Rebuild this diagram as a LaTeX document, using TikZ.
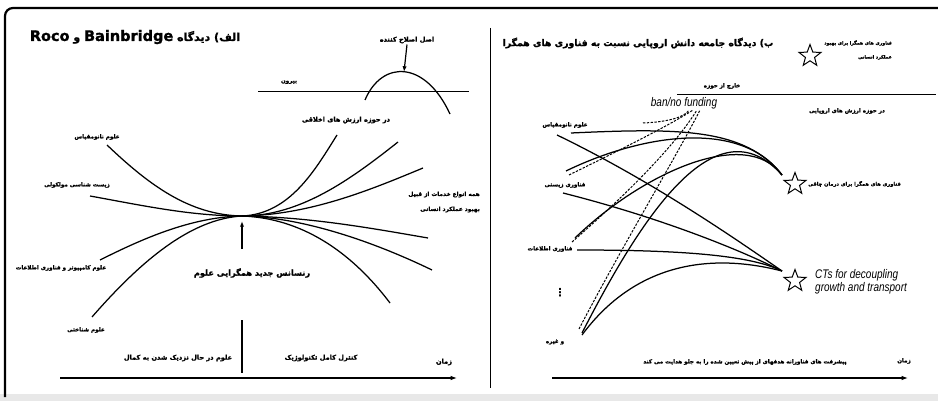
\documentclass[tikz,border=0pt]{standalone}
\usepackage{fontspec}
\usetikzlibrary{arrows.meta,shapes.geometric}
\TeXXeTstate=1
\newfontfamily\farsi[Script=Arabic,BoldFeatures={FakeBold=1.4}]{DejaVu Sans}
\newfontfamily\symfont{DejaVu Sans}
\newfontfamily\narrowit[FakeStretch=0.8]{Liberation Sans}
\newcommand{\rtl}[1]{\beginR#1\endR}
\definecolor{edgegray}{RGB}{232,232,232}
\tikzset{
  curve/.style={black,line width=1.25pt},
  twin/.style={black,line width=1pt,dash pattern=on 2.4pt off 1.4pt},
  rule/.style={black,line width=1pt},
  axis/.style={-{Latex[length=2.2mm,width=1.6mm]},line width=1.8pt},
  pointer/.style={-{Latex[length=2mm,width=1.5mm]},line width=1.2pt},
  lab/.style={font=\farsi\bfseries\fontsize{5.6}{8}\selectfont,inner sep=1pt},
  smalllab/.style={font=\farsi\bfseries\fontsize{5.1}{14}\selectfont,inner sep=1pt},
  midlab/.style={font=\farsi\bfseries\fontsize{6.6}{9}\selectfont,inner sep=1pt},
  biglab/.style={font=\farsi\bfseries\fontsize{8.2}{10}\selectfont,inner sep=1pt},
  heading/.style={font=\farsi\bfseries\fontsize{11}{13}\selectfont,inner sep=1pt},
  entext/.style={font=\narrowit\itshape\fontsize{12.5}{13}\selectfont,inner sep=1pt},
  target/.style={star,star points=5,star point ratio=2.4,draw,line width=1pt,
                 minimum size=23pt,inner sep=0pt},
}

\begin{document}
\begin{tikzpicture}[x=1pt,y=-1pt]
  \path[use as bounding box] (0,0) rectangle (938,401);
  \fill[edgegray] (0,394) rectangle (938,401);
  \draw[line width=2.2pt,rounded corners=8pt] (5,397) -- (5,8) -- (945,8);
  \draw[rule,line width=0.8pt] (490,28) -- (490,388);

  % left panel
  \node[heading] (lefttitle) at (135,37)
    {\rtl{الف) دیدگاه \beginL{\fontsize{14.5}{15}\selectfont Bainbridge}\endL{} و
     \beginL{\fontsize{14.5}{15}\selectfont Roco}\endL}};
  \node[midlab] (fix) at (407,40) {\rtl{اصل اصلاح کننده}};
  \node[lab] (outL) at (289,82) {\rtl{بیرون}};
  \node[midlab] (ethics) at (346,120) {\rtl{در حوزه ارزش های اخلاقی}};
  \coordinate (lineL) at (258,92);
  \coordinate (lineR) at (469,92);
  \coordinate (bellA) at (365,100);
  \coordinate (bellB) at (450,114);
  \coordinate (bellTop) at (404,72);
  \draw[rule] (lineL) -- (lineR);
  \draw[curve] (bellA) .. controls (382,60) and (425,60) .. (bellB);
  \draw[pointer] (fix.south) -- (bellTop);

  \node[lab] (nanoL) at (97,137) {\rtl{علوم نانومقیاس}};
  \node[lab] (molbio) at (77,185) {\rtl{زیست شناسی مولکولی}};
  \node[lab] (cs) at (61,268) {\rtl{علوم کامپیوتر و فناوری اطلاعات}};
  \node[lab] (cog) at (86,330) {\rtl{علوم شناختی}};
  \node[lab,font=\farsi\bfseries\fontsize{5.8}{15}\selectfont,align=right,anchor=east]
    (services) at (481,202)
    {\rtl{همه انواع خدمات از قبیل}\\\rtl{بهبود عملکرد انسانی}};

  \coordinate (hub) at (242,216);
  \draw[curve] (107,145) .. controls (150,186) and (190,215) .. (hub)
               .. controls (300,216) and (350,180) .. (398,142);
  \draw[curve] (90,196) .. controls (140,205) and (190,216) .. (hub)
               .. controls (310,215) and (370,190) .. (423,168);
  \draw[curve] (100,260) .. controls (140,240) and (190,217) .. (hub)
               .. controls (310,217) and (370,228) .. (428,238);
  \draw[curve] (92,317) .. controls (140,262) and (190,219) .. (hub)
               .. controls (300,217) and (370,240) .. (432,270);
  \draw[curve] (hub) .. controls (290,214) and (315,170) .. (337,135);
  \draw[curve] (hub) .. controls (300,218) and (350,250) .. (390,303);

  \node[biglab] (renaissance) at (252,273) {\rtl{رنسانس جدید همگرایی علوم}};
  \coordinate (upfoot) at (242,249);
  \draw[pointer] (upfoot) -- ([yshift=-5pt]hub);

  \node[midlab] (near) at (178,358) {\rtl{علوم در حال نزدیک شدن به کمال}};
  \node[midlab] (control) at (321,358) {\rtl{کنترل کامل تکنولوژیک}};
  \node[midlab] (timeL) at (444,362) {\rtl{زمان}};
  \draw[rule,line width=1.3pt] (242,320) -- (242,373);
  \coordinate (axisLa) at (60,378);
  \coordinate (axisLb) at (457,378);
  \draw[axis] (axisLa) -- (axisLb);

  % right panel
  \node[heading,font=\farsi\bfseries\fontsize{9.3}{12}\selectfont] (righttitle) at (638,43)
    {\rtl{ب) دیدگاه جامعه دانش اروپایی نسبت به فناوری های همگرا}};
  \node[target] (enhstar) at (810,56) {};
  \node[smalllab,font=\farsi\bfseries\fontsize{4.6}{14}\selectfont,align=right,anchor=east]
    (enh) at (893,50)
    {\rtl{فناوری های همگرا برای بهبود}\\\rtl{عملکرد انسانی}};
  \node[lab] (outR) at (722,86) {\rtl{خارج از حوزه}};
  \coordinate (domainL) at (677,95);
  \coordinate (domainR) at (936,95);
  \draw[rule] (domainL) -- (domainR);
  \node[lab] (inside) at (847,111) {\rtl{در حوزه ارزش های اروپایی}};
  \node[entext] (ban) at (684,103) {ban/no funding};

  \node[lab] (nanoR) at (565,125) {\rtl{علوم نانومقیاس}};
  \node[lab] (bio) at (565,185) {\rtl{فناوری زیستی}};
  \node[lab] (info) at (550,249) {\rtl{فناوری اطلاعات}};
  \node[inner sep=0pt,font=\symfont\bfseries\fontsize{11}{12}\selectfont] (dots) at (560,293) {⋮};
  \node[lab] (etc) at (555,342) {\rtl{و غیره}};

  \node[target] (obstar) at (795,184) {};
  \node[smalllab,anchor=west] (obesity) at (807,184) {\rtl{فناوری های همگرا برای درمان چاقی}};
  \node[target] (ctstar) at (795,281) {};
  \node[entext,align=left,anchor=west] (cts) at (814,282)
    {CTs for decoupling\\growth and transport};

  \coordinate (obes) at (782,175);
  \coordinate (decp) at (782,271);
  \draw[curve] (571,133) .. controls (680,128) and (745,128) .. (obes);
  \draw[curve] (557,135) .. controls (650,180) and (730,235) .. (decp);
  \draw[curve] (566,171) .. controls (640,135) and (740,118) .. (obes);
  \draw[curve] (563,193) .. controls (650,215) and (730,245) .. (decp);
  \draw[curve] (575,238) .. controls (640,175) and (745,125) .. (obes);
  \draw[curve] (577,250) .. controls (680,250) and (750,255) .. (decp);
  \draw[curve] (582,333) .. controls (640,220) and (715,100) .. (obes);
  \draw[curve] (582,335) .. controls (630,270) and (700,250) .. (decp);

  \draw[twin] (643,123) .. controls (668,122) and (685,117) .. ([xshift=5pt]ban.south);
  \draw[twin] (569,175) .. controls (620,150) and (670,125) .. ([xshift=9pt]ban.south);
  \draw[twin] (572,242) .. controls (620,200) and (672,150) .. ([xshift=13pt]ban.south);
  \draw[twin] (579,329) .. controls (620,250) and (680,150) .. ([xshift=16pt]ban.south);

  \node[lab] (progress) at (745,362)
    {\rtl{پیشرفت های فناورانه هدفهای از پیش تعیین شده را به جلو هدایت می کند}};
  \node[lab] (timeR) at (904,361) {\rtl{زمان}};
  \coordinate (axisRa) at (552,378);
  \coordinate (axisRb) at (908,378);
  \draw[axis] (axisRa) -- (axisRb);
\end{tikzpicture}
\end{document}
